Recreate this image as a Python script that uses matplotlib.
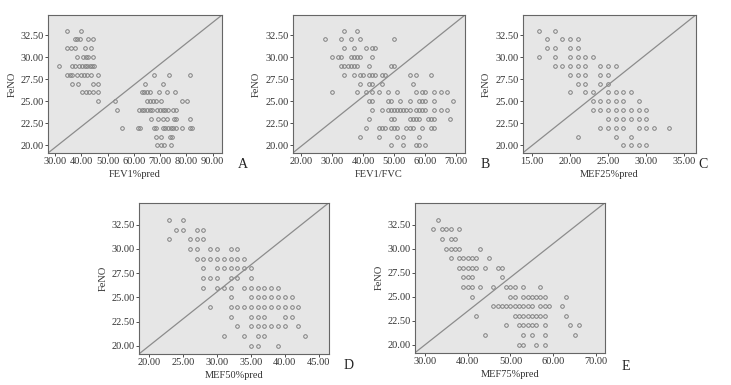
import numpy as np
import matplotlib.pyplot as plt

plt.rcParams['font.family'] = ['Liberation Serif', 'DejaVu Serif']

# FeNO value -> x values
fev1_pred = {
    33: [34.7, 39.7],
    32: [37.5, 38.5, 39.5, 42.7, 44.6],
    31: [34.5, 36, 37.6, 41.4, 43.5],
    30: [38.5, 40.5, 41.6, 42.7, 44.6],
    29: [31.6, 36.5, 37.5, 39, 40.4, 41.3, 42.2, 43.2, 44, 45],
    28: [34.6, 35.6, 36.6, 38.5, 39.8, 41, 42.3, 43.6, 46.5, 67.5, 73.3, 81.3],
    27: [36.6, 38.6, 44.6, 46.5, 64.4, 71.3],
    26: [40.4, 41.6, 42.8, 44.6, 46.5, 63, 64, 65, 66, 69.5, 72.5, 75.5],
    25: [46.5, 52.7, 65.2, 66.2, 67.4, 68.6, 70.5, 78.4, 80.4],
    24: [53.5, 62, 63, 64, 65, 66, 67, 69, 70, 71, 72, 73, 75, 76],
    23: [66.5, 69.3, 71.2, 72.5, 75.3, 76.2, 81.3],
    22: [55.5, 61.4, 62.3, 67.7, 68.6, 71.2, 72, 73, 74, 75, 76, 78.4, 81.3, 82.2],
    21: [68.4, 70.5, 73.7, 74.6],
    20: [69, 70.2, 71.5, 74.3],
}

fev1_fvc = {
    33: [34, 38],
    32: [27.8, 33, 36, 39, 50],
    31: [34, 37, 41, 43, 44],
    30: [30, 32, 33, 36, 37, 38, 39, 43],
    29: [33, 34, 35, 36, 37, 38, 42, 49, 50],
    28: [34, 37, 39, 40, 42, 43, 44, 46, 47, 55, 57, 62],
    27: [39, 42, 43, 46, 56],
    26: [30, 38, 41, 43, 45, 48, 51, 57, 59, 60, 63, 65, 67],
    25: [42, 43, 48, 49, 52, 55, 58, 59, 60, 63, 69],
    24: [43, 46, 48, 49, 50, 51, 52, 53, 54, 55, 57, 58, 59, 60, 63, 65, 67],
    23: [42, 49, 50, 55, 56, 57, 58, 61, 62, 63, 68],
    22: [41, 45, 46, 47, 49, 50, 51, 54, 55, 56, 59, 62, 63],
    21: [39, 45, 51, 53, 58],
    20: [49, 53, 57, 58, 60],
}

mef25_pred = {
    33: [16, 18],
    32: [17, 19, 20, 21],
    31: [17, 18, 20, 21],
    30: [16, 18, 20, 21, 22, 23],
    29: [18, 19, 20, 21, 22, 24, 25, 26],
    28: [20, 21, 22, 24, 25],
    27: [21, 22, 24, 25],
    26: [20, 22, 23, 25, 26, 27, 28],
    25: [23, 24, 25, 26, 27, 29],
    24: [23, 24, 25, 26, 27, 28, 29, 30],
    23: [25, 26, 27, 28, 29, 30],
    22: [24, 25, 26, 27, 29, 30, 31, 33],
    21: [21, 26, 28],
    20: [27, 28, 29, 30],
}

mef50_pred = {
    33: [23, 25],
    32: [24, 25, 27, 28],
    31: [23, 26, 27, 28],
    30: [26, 27, 29, 30, 32, 33],
    29: [27, 28, 29, 30, 31, 32, 33, 34],
    28: [28, 30, 31, 32, 33, 34, 35],
    27: [28, 29, 30, 32, 33, 35],
    26: [28, 30, 31, 32, 34, 35, 36, 37, 38, 39],
    25: [32, 35, 36, 37, 38, 39, 40, 41],
    24: [29, 32, 33, 34, 35, 36, 37, 38, 39, 40, 41, 42],
    23: [32, 35, 36, 37, 40, 41],
    22: [33, 35, 36, 37, 38, 39, 40, 42],
    21: [31, 34, 36, 37, 43],
    20: [35, 36, 39],
}

mef75_pred = {
    33: [33],
    32: [32, 34, 35, 36, 38],
    31: [34, 36, 37],
    30: [35, 36, 37, 38, 43],
    29: [36, 38, 39, 40, 41, 42, 45],
    28: [38, 39, 40, 41, 42, 44, 47, 48],
    27: [39, 40, 41, 48],
    26: [39, 40, 41, 43, 46, 49, 50, 51, 53, 57],
    25: [41, 50, 51, 53, 54, 55, 56, 57, 58, 63],
    24: [46, 47, 48, 49, 50, 51, 52, 53, 54, 55, 57, 58, 59, 62],
    23: [42, 51, 52, 53, 54, 55, 56, 57, 58, 63],
    22: [49, 52, 53, 54, 55, 56, 58, 64, 66],
    21: [44, 53, 55, 58, 65],
    20: [52, 53, 56, 58],
}

y_ticks = [20.0, 22.5, 25.0, 27.5, 30.0, 32.5]

panels = [
    # data, xlabel, letter, axes rect, xlim, xticks, letter pos
    (fev1_pred, 'FEV1%pred', 'A', [0.0657, 0.6026, 0.238, 0.3584], (27.3, 93.6),
     [30, 40, 50, 60, 70, 80, 90], (0.326, 0.563)),
    (fev1_fvc, 'FEV1/FVC', 'B', [0.4004, 0.6026, 0.2357, 0.3584], (17.3, 72.9),
     [20, 30, 40, 50, 60, 70], (0.657, 0.563)),
    (mef25_pred, 'MEF25%pred', 'C', [0.715, 0.6026, 0.2367, 0.3584], (13.8, 36.5),
     [15, 20, 25, 30, 35], (0.956, 0.563)),
    (mef50_pred, 'MEF50%pred', 'D', [0.190, 0.0805, 0.260, 0.393], (18.5, 46.5),
     [20, 25, 30, 35, 40, 45], (0.470, 0.041)),
    (mef75_pred, 'MEF75%pred', 'E', [0.5677, 0.0839, 0.260, 0.3896], (27.7, 72.1),
     [30, 40, 50, 60, 70], (0.850, 0.039)),
]

fig = plt.figure(figsize=(7.31, 3.85), dpi=100)

for data, xlab, letter, rect, xlim, xticks, lpos in panels:
    ax = fig.add_axes(rect)
    ax.set_facecolor('#e6e6e6')
    xs = []
    ys = []
    for feno, vals in data.items():
        xs += vals
        ys += [feno] * len(vals)
    ax.plot(xs, ys, 'o', markersize=2.6, markerfacecolor='none',
            markeredgecolor='#808080', markeredgewidth=0.7)
    # reference line corner to corner
    ax.plot([0, 1], [0, 1], transform=ax.transAxes, color='#8c8c8c', linewidth=0.9)
    ax.set_xlim(xlim)
    ax.set_ylim(19.15, 34.77)
    ax.set_xticks(xticks)
    ax.set_xticklabels([f'{t:.2f}' for t in xticks])
    ax.set_yticks(y_ticks)
    ax.set_yticklabels([f'{t:.2f}' for t in y_ticks])
    ax.tick_params(labelsize=7.5, length=2, width=0.6, pad=1, colors='#333333')
    for s in ax.spines.values():
        s.set_color('#666666')
        s.set_linewidth(0.8)
    ax.set_xlabel(xlab, fontsize=7.5, labelpad=3, color='#333333')
    ax.set_ylabel('FeNO', fontsize=7.5, labelpad=3, color='#333333')
    fig.text(lpos[0], lpos[1], letter, fontsize=10, color='#222222')

plt.savefig('out.png', dpi=100)
